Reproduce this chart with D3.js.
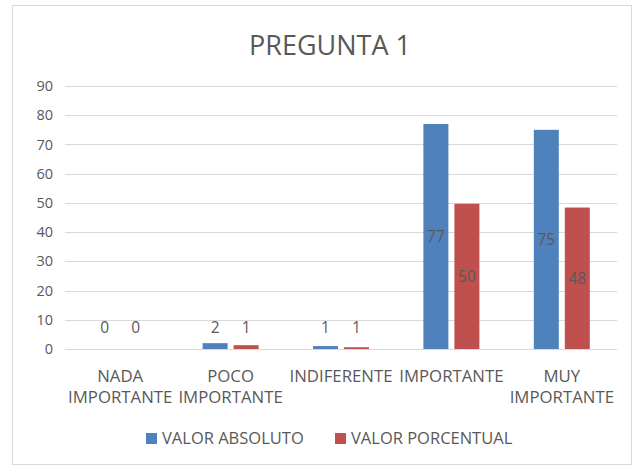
<!DOCTYPE html>
<html>
<head>
<meta charset="utf-8">
<script src="https://cdn.jsdelivr.net/npm/d3@7"></script>
<style>
  body { margin: 0; background: #fff; }
  text { font-family: "Open Sans", "Noto Sans", sans-serif; fill: #595959; }
</style>
</head>
<body>
<svg id="chart" width="642" height="469"></svg>
<script>
// data
const categories = [["NADA", "IMPORTANTE"], ["POCO", "IMPORTANTE"], ["INDIFERENTE"], ["IMPORTANTE"], ["MUY", "IMPORTANTE"]];
const seriesNames = ["VALOR ABSOLUTO", "VALOR PORCENTUAL"];
const valorAbsoluto = [0, 2, 1, 77, 75];
const valorPorcentual = [0, 1.3, 0.6, 49.7, 48.4];
const yTicks = [0, 10, 20, 30, 40, 50, 60, 70, 80, 90];
const colors = ["#4F81BD", "#C0504D"];

const svg = d3.select("#chart");

// chart frame
svg.append("rect")
    .attr("x", 12.5).attr("y", 5.5)
    .attr("width", 619).attr("height", 459)
    .attr("fill", "#fff")
    .attr("stroke", "#d9d9d9");

const margin = { left: 65, right: 617, top: 86, bottom: 349 };

const x = d3.scaleBand()
    .domain(d3.range(categories.length))
    .range([margin.left, margin.right]);

const x1 = d3.scaleBand()
    .domain(d3.range(seriesNames.length))
    .range([0, x.bandwidth()])
    .paddingInner(0.1935)
    .paddingOuter(0.877);

const y = d3.scaleLinear()
    .domain([0, 90])
    .range([margin.bottom, margin.top]);

// gridlines
svg.append("g")
    .selectAll("line")
    .data(yTicks)
    .enter().append("line")
    .attr("x1", margin.left).attr("x2", margin.right)
    .attr("y1", function(d) { return Math.round(y(d)) + 0.5; })
    .attr("y2", function(d) { return Math.round(y(d)) + 0.5; })
    .attr("stroke", "#d9d9d9")
    .attr("stroke-width", 1);

// y axis labels
const yAxis = svg.append("g")
    .attr("transform", "translate(" + (margin.left - 12) + ",0)")
    .call(d3.axisLeft(y).tickValues(yTicks).tickSize(0).tickPadding(0));
yAxis.select(".domain").remove();
yAxis.selectAll("text")
    .style("font-size", "14.5px")
    .style("font-family", "'Open Sans', sans-serif")
    .attr("fill", "#595959");

// bars
const series = [valorAbsoluto, valorPorcentual];
const groups = svg.append("g")
    .selectAll("g")
    .data(series)
    .enter().append("g")
    .attr("fill", function(d, i) { return colors[i]; });

groups.selectAll("rect")
    .data(function(d, i) { return d.map(function(v, j) { return { s: i, c: j, v: v }; }); })
    .enter().append("rect")
    .attr("x", function(d) { return x(d.c) + x1(d.s); })
    .attr("y", function(d) { return y(d.v); })
    .attr("width", x1.bandwidth())
    .attr("height", function(d) { return y(0) - y(d.v); });

// data labels: centered in bar, pushed above axis for short bars
groups.selectAll("text")
    .data(function(d, i) { return d.map(function(v, j) { return { s: i, c: j, v: v }; }); })
    .enter().append("text")
    .attr("x", function(d) { return x(d.c) + x1(d.s) + x1.bandwidth() / 2; })
    .attr("y", function(d) { return Math.min((y(d.v) + y(0)) / 2, y(0) - 21); })
    .attr("dy", "0.35em")
    .attr("text-anchor", "middle")
    .style("font-size", "15.5px")
    .attr("fill", "#404040")
    .text(function(d) { return Math.round(d.v); });

// category labels
const xl = svg.append("g")
    .selectAll("text")
    .data(categories)
    .enter().append("text")
    .attr("x", function(d, i) { return x(i) + x.bandwidth() / 2; })
    .attr("y", 382)
    .attr("text-anchor", "middle")
    .style("font-size", "16.8px");
xl.selectAll("tspan")
    .data(function(d) { return d; })
    .enter().append("tspan")
    .attr("x", function() { return d3.select(this.parentNode).attr("x"); })
    .attr("dy", function(d, i) { return i === 0 ? 0 : 21; })
    .text(function(d) { return d; });

// title
svg.append("text")
    .attr("x", 330).attr("y", 55)
    .attr("text-anchor", "middle")
    .style("font-size", "27px")
    .text("PREGUNTA 1");

// legend
const legendX = [146, 335];
const legend = svg.append("g")
    .selectAll("g")
    .data(seriesNames)
    .enter().append("g")
    .attr("transform", function(d, i) { return "translate(" + legendX[i] + ",433)"; });
legend.append("rect")
    .attr("width", 11).attr("height", 11)
    .attr("fill", function(d, i) { return colors[i]; });
legend.append("text")
    .attr("x", 16).attr("y", 5.5)
    .attr("dy", "0.35em")
    .style("font-size", "16.5px")
    .text(function(d) { return d; });
</script>
</body>
</html>
